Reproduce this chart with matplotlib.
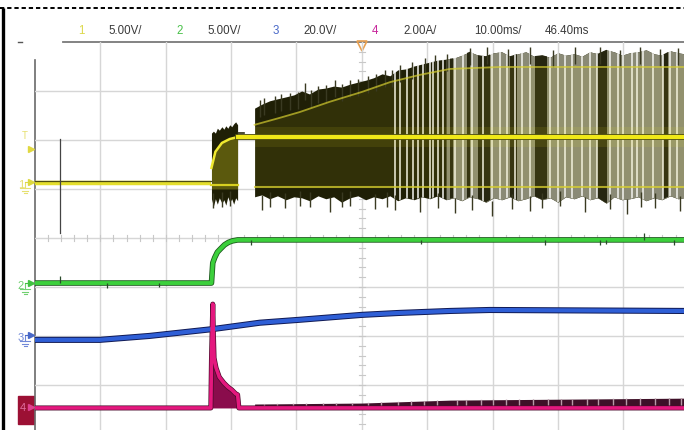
#!/usr/bin/env python3
"""Scope capture: 4 channels at power-up"""
import matplotlib
matplotlib.use('Agg')
import matplotlib.pyplot as plt
import numpy as np
from matplotlib.patches import Rectangle

plt.rcParams['font.family'] = ['Liberation Sans', 'DejaVu Sans']

# ── header ──
ch_labels = ['1', '2', '3', '4']
ch_scales = ['5.00V/', '5.00V/', '20.0V/', '2.00A/']
ch_colors = ['#dcd84a', '#48c048', '#4868c8', '#c8289c']
time_scale = '10.00ms/'
trig_pos = '46.40ms'

# ══════════════════════════════════════════════════
# TRACES (screen divisions: x -5..5, y -4..4)
# ══════════════════════════════════════════════════
# CH1 yellow
c1_base_x = [-5.0, -2.30]
c1_base_y = [1.12, 1.12]
c1_spike_x = -4.62
c1_spike_y = [0.10, 2.02]

b1_x = [-2.30, -2.27, -2.24, -2.21, -2.18, -2.14, -2.11, -2.08, -2.05, -2.02, -1.99, -1.96, -1.93, -1.90]
b1_up = [2.14, 2.18, 2.14, 2.24, 2.20, 2.27, 2.22, 2.29, 2.24, 2.31, 2.27, 2.33, 2.37, 2.31]
b1_lo = [0.80, 0.65, 0.80, 0.69, 0.82, 0.71, 0.78, 0.67, 0.84, 0.73, 0.80, 0.69, 0.82, 0.76]
b1_glow_x = [-2.30, -2.24, -2.14, -2.02, -1.90]
b1_glow_y = [1.43, 1.76, 1.94, 2.02, 2.06]

c1_high_x = [-1.90, 4.93]
c1_high_y = [2.06, 2.06]
c1_low_line = 1.04

b2_x = [-1.64, -1.53, -1.41, -1.29, -1.16, -1.04, -0.92, -0.80, -0.67, -0.55, -0.43, -0.31, -0.18, -0.06,
        0.06, 0.18, 0.31, 0.43, 0.55, 0.67, 0.80, 0.92, 1.04, 1.16, 1.29, 1.41, 1.53, 1.65, 1.78, 1.90,
        2.02, 2.14, 2.27, 2.39, 2.51, 2.63, 2.76, 2.88, 3.00, 3.12, 3.25, 3.37, 3.49, 3.61, 3.74, 3.86,
        3.98, 4.10, 4.23, 4.35, 4.47, 4.59, 4.72, 4.84, 4.93]
b2_up = [2.65, 2.73, 2.80, 2.84, 2.88, 2.92, 3.00, 2.94, 3.04, 3.06, 3.10, 3.08, 3.14, 3.18,
         3.22, 3.27, 3.35, 3.31, 3.43, 3.45, 3.51, 3.55, 3.59, 3.63, 3.65, 3.67, 3.73, 3.80, 3.73, 3.71,
         3.78, 3.80, 3.71, 3.76, 3.80, 3.71, 3.73, 3.69, 3.78, 3.73, 3.76, 3.71, 3.80, 3.76, 3.84, 3.80,
         3.73, 3.78, 3.80, 3.84, 3.76, 3.73, 3.82, 3.78, 3.76]
b2_lo = [0.84, 0.88, 0.80, 0.86, 0.78, 0.84, 0.82, 0.76, 0.86, 0.80, 0.84, 0.73, 0.82, 0.86,
         0.78, 0.84, 0.80, 0.86, 0.76, 0.82, 0.78, 0.84, 0.80, 0.86, 0.78, 0.82, 0.76, 0.84, 0.80, 0.73,
         0.82, 0.78, 0.84, 0.76, 0.80, 0.86, 0.78, 0.82, 0.73, 0.84, 0.80, 0.86, 0.78, 0.82, 0.71, 0.84,
         0.78, 0.80, 0.84, 0.76, 0.82, 0.78, 0.86, 0.80, 0.82]
b2_glow_x = [-1.64, -1.26, -0.95, -0.49, 0.0, 0.43, 0.89, 1.35, 2.11, 4.93]
b2_glow_y = [2.31, 2.45, 2.57, 2.78, 2.98, 3.18, 3.33, 3.45, 3.49, 3.49]

spk_up_x = [-1.56, -1.49, -1.33, -1.23, -1.10, -0.98, -0.87, -0.77, -0.67, -0.55, -0.41, -0.31, -0.18,
            -0.06, 0.09, 0.21, 0.35, 0.46, 0.58, 0.77, 0.96, 1.12, 1.30, 1.65, 1.91, 2.24, 2.57, 2.92,
            3.26, 3.64, 3.95, 4.26, 4.56, 4.84]
spk_up_y = [2.82, 2.86, 2.90, 2.94, 2.96, 2.98, 3.16, 3.02, 3.10, 3.12, 3.22, 3.14, 3.22,
            3.24, 3.31, 3.35, 3.43, 3.43, 3.53, 3.59, 3.67, 3.73, 3.76, 3.88, 3.90, 3.86, 3.90, 3.84,
            3.90, 3.90, 3.84, 3.90, 3.86, 3.88]
spk_dn_x = [-2.27, -2.14, -2.02, -1.53, -1.40, -1.18, -0.95, -0.80, -0.49, -0.30, -0.18, 0.20, 0.38,
            0.51, 0.89, 1.16, 1.42, 1.68, 1.99, 2.30, 2.57, 2.75, 3.03, 3.41, 3.80, 4.06, 4.27, 4.49, 4.87]
spk_dn_y = [0.61, 0.63, 0.65, 0.57, 0.63, 0.61, 0.65, 0.63, 0.53, 0.63, 0.65, 0.59, 0.63,
            0.57, 0.53, 0.61, 0.51, 0.57, 0.45, 0.59, 0.55, 0.61, 0.65, 0.53, 0.59, 0.49, 0.63, 0.61, 0.55]

gray_from = 1.29
gaps_x = [0.51, 0.58, 0.69, 0.78, 0.86, 0.93, 1.04, 1.09, 1.16, 1.24, 1.42, 1.55, 1.68, 1.85, 1.99,
          2.11, 2.22, 2.34, 2.45, 2.57, 2.88, 3.00, 3.11, 3.22, 3.37, 3.49, 3.60, 3.80, 3.92, 4.00,
          4.13, 4.21, 4.30, 4.46, 4.61, 4.72, 4.82]
dark_bars = [(1.35, 1.39), (1.61, 1.65), (1.78, 1.96), (2.27, 2.37), (2.65, 2.83), (3.60, 3.75), (4.61, 4.69)]

# CH2 green
c2_x = [-5.0, -2.30, -2.28, -2.25, -2.21, -2.16, -2.10, -2.04, -1.98, -1.90, 4.93]
c2_y = [-0.92, -0.92, -0.51, -0.40, -0.29, -0.22, -0.14, -0.09, -0.06, -0.04, -0.04]
c2_tick_x = [-4.62, -3.90, -3.10, -1.70, 0.90, 2.80, 3.65, 3.74, 4.32, 4.78]
c2_tick_y = [-0.78, -1.02, -1.00, -0.14, -0.13, -0.14, -0.14, -0.13, 0.10, -0.14]

# CH3 blue
c3_x = [-5.0, -4.01, -3.25, -2.28, -1.56, -0.95, 0.0, 0.58, 1.35, 1.96, 4.93]
c3_y = [-2.08, -2.08, -2.00, -1.86, -1.73, -1.67, -1.57, -1.53, -1.49, -1.47, -1.49]

# CH4 magenta
c4_x = [-5.0, -2.31, -2.30, -2.28, -2.27, -2.26, -2.23, -2.18, -2.11, -2.05, -1.99, -1.93, -1.90, -1.88, 4.93]
c4_y = [-3.47, -3.47, -2.49, -1.35, -1.98, -2.45, -2.65, -2.84, -2.96, -3.04, -3.10, -3.18, -3.20, -3.47, -3.47]
c4_hash_x = [-1.64, 0.0, 1.35, 4.93]
c4_hash_top = [-3.39, -3.37, -3.31, -3.27]
c4_hash_gaps = [-1.50, -1.30, -1.05, -0.85, -0.60, -0.40, -0.15, 0.10, 0.30, 0.55, 0.75, 0.95, 1.15,
                1.45, 1.60, 1.82, 2.00, 2.20, 2.40, 2.62, 2.85, 3.05, 3.22, 3.45, 3.62, 3.85, 4.05,
                4.25, 4.48, 4.70, 4.88]

# ══════════════════════════════════════════════════
# FIGURE
# ══════════════════════════════════════════════════
fig = plt.figure(figsize=(6.84, 4.30), dpi=100)
bg = fig.add_axes([0, 0, 1, 1])
bg.set_xlim(0, 684)
bg.set_ylim(430, 0)
bg.axis('off')

# frame
bg.plot([3, 3], [8, 430], color='black', lw=2.4, solid_capstyle='butt')
bg.plot([0, 684], [8, 8], color='black', lw=1.4, dashes=(2.2, 1.5))
bg.plot([63, 684], [42, 42], color='#7a7a7a', lw=1.3)
bg.plot([35, 35], [60, 430], color='#6a6a6a', lw=1.2)
bg.plot([18, 22], [42, 42], color='#555555', lw=1)

# header text
hx_num = [78, 176, 273, 372]
hx_val = [108, 207, 303, 403]
for i in range(4):
    bg.text(hx_num[i], 31, ch_labels[i], color=ch_colors[i], fontsize=8.3, va='center')
    bg.text(hx_val[i], 31, ch_scales[i], color='#3a3a3a', fontsize=8.3, va='center')
bg.text(474, 31, time_scale, color='#3a3a3a', fontsize=8.3, va='center')
bg.text(545, 31, trig_pos, color='#3a3a3a', fontsize=8.3, va='center')

# channel markers
def gnd(x, y, c):
    bg.plot([x, x], [y, y + 5], color=c, lw=0.8)
    bg.plot([x - 5, x + 5], [y + 5, y + 5], color=c, lw=0.8)
    bg.plot([x - 3, x + 3], [y + 7.5, y + 7.5], color=c, lw=0.8)
    bg.plot([x - 1.5, x + 1.5], [y + 10, y + 10], color=c, lw=0.8)

bg.text(25, 136, 'T', color='#e6e070', fontsize=7, ha='center', va='center')
bg.plot(31, 149, marker='>', color='#e0d840', ms=4.5)
marks = [(183, '#e6e070', '#dcd840'), (284, '#70d070', '#40c040'), (336, '#7088d8', '#4868c8')]
for n, (yy, tc, ac) in zip(['1', '2', '3'], marks):
    bg.text(21, yy + 2, n, color=tc, fontsize=8, ha='center', va='center')
    bg.plot(31, yy - 1, marker='>', color=ac, ms=4.5)
    bg.plot([25, 30], [yy - 1, yy - 1], color=ac, lw=0.8)
    gnd(25, yy, tc)
bg.add_patch(Rectangle((18, 396), 16, 28, color='#9c1034'))
bg.text(23, 408, '4', color='#e070a0', fontsize=8, ha='center', va='center')
bg.plot(31, 407, marker='>', color='#e04090', ms=4.5)

# trigger marker
bg.plot(362, 46, marker='v', ms=7, mfc='none', mec='#e8a050', mew=1.2)

# ── scope screen ──
ax = fig.add_axes([35 / 684, 0, 649 / 684, 388 / 430])
ax.set_facecolor('none')
ax.set_xlim(-5, 4.93)
ax.set_ylim(-3.92, 4.0)
for s in ax.spines.values():
    s.set_visible(False)
ax.set_xticks([])
ax.set_yticks([])

for i in range(-4, 5):
    ax.axvline(i, color='#d6d6d6', lw=1, zorder=0)
for j in range(-3, 4):
    ax.axhline(j, color='#d6d6d6', lw=1, zorder=0)
for t in np.arange(-3.8, 4.0, 0.2):
    ax.plot([-0.05, 0.05], [t, t], color='#c8c8c8', lw=0.8, zorder=0)
for t in np.arange(-4.8, 4.93, 0.2):
    ax.plot([t, t], [-0.06, 0.06], color='#c8c8c8', lw=0.8, zorder=0)

# CH1
dark = '#1f1f06'
ax.plot(c1_base_x, c1_base_y, color='#e4de2c', lw=3.2, zorder=3, solid_capstyle='butt')
ax.plot(c1_base_x, [v + 0.04 for v in c1_base_y], color='#4a4a12', lw=0.9, zorder=3)
ax.plot([c1_spike_x, c1_spike_x], c1_spike_y, color='#444444', lw=0.9, zorder=3)

ax.fill_between(b1_x, b1_lo, b1_up, color=dark, lw=0, zorder=2)
ax.fill_between(b1_glow_x, 1.0, b1_glow_y, color='#e8e020', alpha=0.3, lw=0, zorder=2)
ax.plot(b1_glow_x, b1_glow_y, color='#f0ea30', lw=1.8, zorder=3)
ax.plot([b1_x[0], b1_x[-1]], [1.08, 1.08], color='#d8d020', lw=1.6, zorder=3)

env = ax.fill_between(b2_x, b2_lo, b2_up, color=dark, lw=0, zorder=2)
clip = env.get_paths()[0]
gsel = [i for i, x in enumerate(b2_x) if x >= gray_from]
ax.fill_between([b2_x[i] for i in gsel], [b2_lo[i] for i in gsel], [b2_up[i] for i in gsel],
                color='#8a8a76', lw=0, zorder=2)
for a, b in dark_bars:
    r = ax.axvspan(a, b, color='#262610', lw=0, zorder=2.1)
    r.set_clip_path(clip, ax.transData)
for g in gaps_x:
    ln = ax.axvline(g, color='#f4f4f0', lw=1.1, zorder=2.2)
    ln.set_clip_path(clip, ax.transData)

ax.fill_between(b2_glow_x, c1_low_line, b2_glow_y, color='#e8e020', alpha=0.09, lw=0, zorder=2.3)
ax.fill_between(b2_glow_x, 1.85, 2.27, color='#e8e020', alpha=0.10, lw=0, zorder=2.3)
ax.plot(b2_glow_x, b2_glow_y, color='#d8d030', lw=1.3, alpha=0.7, zorder=3)
ax.plot([b2_x[0], b2_x[-1]], [c1_low_line, c1_low_line], color='#d8d030', lw=1.5, alpha=0.75, zorder=3)
ax.vlines(spk_up_x, [v - 0.35 for v in spk_up_y], spk_up_y, color='#3a3a22', lw=1, zorder=2.5)
ax.vlines(spk_dn_x, spk_dn_y, [v + 0.3 for v in spk_dn_y], color='#3a3a22', lw=1, zorder=2.5)
ax.plot([-1.90, -1.80], [2.14, 2.14], color='#2a2a10', lw=1.2, zorder=3)
ax.plot(c1_high_x, c1_high_y, color='#4a4a10', lw=4.2, zorder=3.5)
ax.plot(c1_high_x, c1_high_y, color='#f0e818', lw=3.0, zorder=3.6)

# CH2
ax.plot(c2_x, c2_y, color='#1c5a1c', lw=4.0, zorder=4)
ax.plot(c2_x, c2_y, color='#3cd03c', lw=2.8, zorder=4.1)
ax.vlines(c2_tick_x, [-0.92 if v < -0.5 else -0.04 for v in c2_tick_y], c2_tick_y,
          color='#2a4a2a', lw=0.9, zorder=4.2)

# CH3
ax.plot(c3_x, c3_y, color='#101a55', lw=4.4, zorder=4)
ax.plot(c3_x, c3_y, color='#2f5fd6', lw=3.0, zorder=4.1)

# CH4
hash_fill = ax.fill_between(c4_hash_x, -3.47, c4_hash_top, color='#3e1028', lw=0, zorder=3.8)
hclip = hash_fill.get_paths()[0]
for g in c4_hash_gaps:
    ln = ax.axvline(g, color='#b89aa8', lw=1.0, zorder=3.85)
    ln.set_clip_path(hclip, ax.transData)
ax.fill_between(c4_x[1:14], -3.47, c4_y[1:14], color='#8a0c4c', lw=0, zorder=3.9)
ax.plot(c4_x, c4_y, color='#4a0a2a', lw=3.6, zorder=4)
ax.plot(c4_x, c4_y, color='#e4187e', lw=2.6, zorder=4.1)

fig.savefig('out.png', dpi=100, facecolor='white')
